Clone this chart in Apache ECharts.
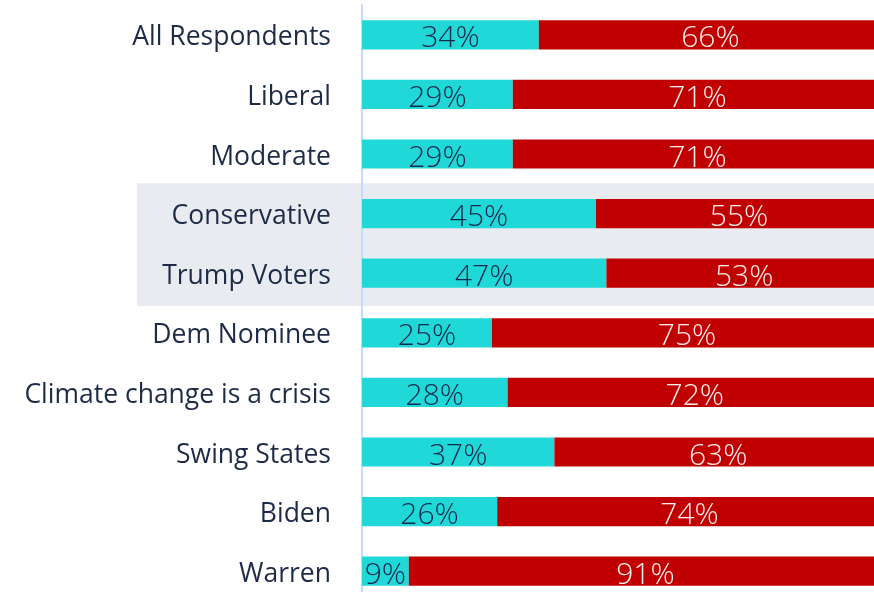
<!DOCTYPE html>
<html>
<head>
<meta charset="utf-8">
<script src="https://cdn.jsdelivr.net/npm/echarts@6/dist/echarts.min.js"></script>
<style>
  html, body { margin: 0; padding: 0; background: #ffffff; }
  #chart { width: 874px; height: 592px; }
</style>
</head>
<body>
<div id="chart"></div>
<script>
// Survey groups, top to bottom
const categories = [
  'All Respondents', 'Liberal', 'Moderate', 'Conservative', 'Trump Voters',
  'Dem Nominee', 'Climate change is a crisis', 'Swing States', 'Biden', 'Warren'
];
// Share of each group (percent)
const cyanShare = [34, 29, 29, 45, 47, 25, 28, 37, 26, 9];
const redShare  = [66, 71, 71, 55, 53, 75, 72, 63, 74, 91];
// Groups shaded with a grey band
const highlighted = ['Conservative', 'Trump Voters'];

const FONT = '"Open Sans", "Noto Sans", sans-serif';
const chart = echarts.init(document.getElementById('chart'), null, { renderer: 'canvas' });

const labelStyle = (color) => ({
  show: true,
  position: 'inside',
  formatter: (p) => p.value + '%',
  color: color,
  fontFamily: FONT,
  fontWeight: 300,
  fontSize: 30,
  offset: [0, 4]
});

chart.setOption({
  animation: false,
  backgroundColor: '#ffffff',
  grid: {
    left: 362, width: 520, top: 5, height: 596,
    outerBoundsMode: 'none', containLabel: false
  },
  xAxis: { type: 'value', min: 0, max: 100, show: false },
  yAxis: {
    type: 'category',
    data: categories,
    inverse: true,
    axisTick: { show: false },
    axisLine: { show: true, lineStyle: { color: '#c6dafc', width: 2 } },
    axisLabel: {
      color: '#1d2b47', fontFamily: FONT, fontWeight: 400, fontSize: 26.5,
      margin: 31, verticalAlign: 'top', lineHeight: 6
    },
    splitLine: { show: false }
  },
  series: [
    {
      type: 'bar', stack: 'total', data: cyanShare, barWidth: '49%',
      itemStyle: { color: '#21d8d9' },
      label: labelStyle('#15294a')
    },
    {
      type: 'bar', stack: 'total', data: redShare, barWidth: '49%',
      itemStyle: { color: '#c00000' },
      label: labelStyle('#fbeeee')
    }
  ]
});

// Grey band behind the highlighted groups, placed from the category scale
function drawBand() {
  const first = chart.convertToPixel({ yAxisIndex: 0 }, highlighted[0]);
  const last = chart.convertToPixel({ yAxisIndex: 0 }, highlighted[highlighted.length - 1]);
  const step = chart.convertToPixel({ yAxisIndex: 0 }, categories[1]) -
               chart.convertToPixel({ yAxisIndex: 0 }, categories[0]);
  const top = first - step * 0.51;
  const bottom = last + step * 0.55;
  chart.setOption({
    graphic: [{
      type: 'rect', z: -10, silent: true,
      shape: { x: 137, y: top, width: chart.getWidth() - 137, height: bottom - top },
      style: { fill: '#e8ebef' }
    }]
  });
}
drawBand();
</script>
</body>
</html>
